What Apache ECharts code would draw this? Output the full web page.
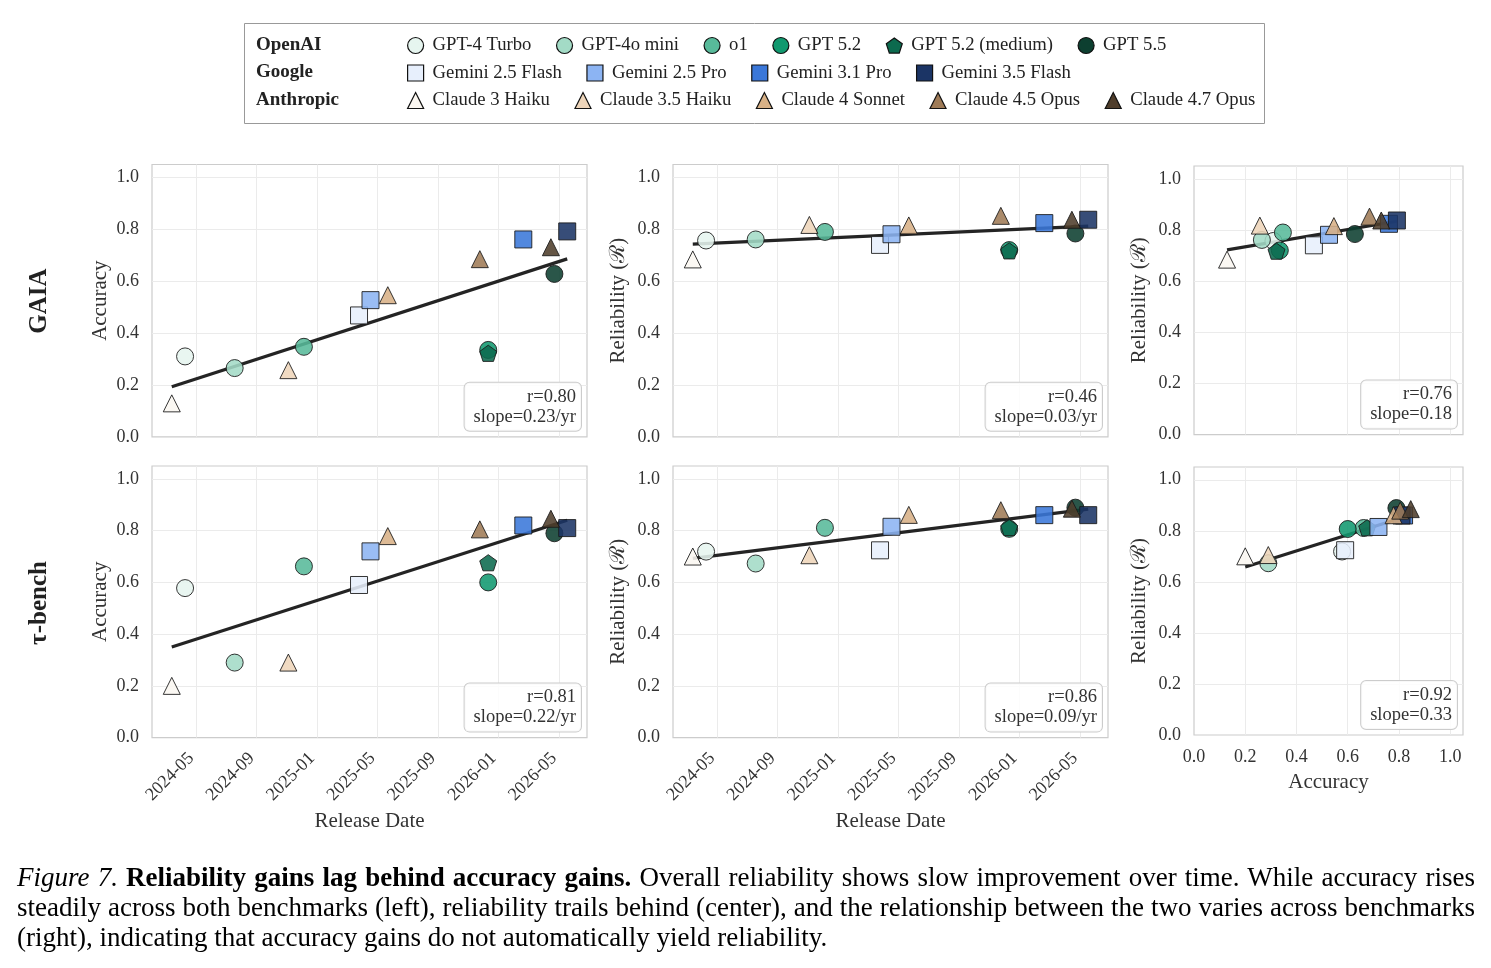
<!DOCTYPE html>
<html><head><meta charset="utf-8">
<script src="https://cdn.jsdelivr.net/npm/echarts@6/dist/echarts.min.js"></script>
<style>
html,body{margin:0;padding:0;background:#fff;}
#chart{position:absolute;left:0;top:0;width:1491px;height:968px;}
#caption{position:absolute;left:17px;top:862px;width:1458px;font-family:'Liberation Serif','Times New Roman',serif;font-size:27px;line-height:30px;color:#000;}
.jl{text-align:justify;text-align-last:justify;white-space:nowrap;}
</style></head><body>
<div id="chart"></div>
<div id="caption">
<div class="jl"><i>Figure 7.</i> <b>Reliability gains lag behind accuracy gains.</b> Overall reliability shows slow improvement over time. While accuracy rises</div>
<div class="jl">steadily across both benchmarks (left), reliability trails behind (center), and the relationship between the two varies across benchmarks</div>
<div>(right), indicating that accuracy gains do not automatically yield reliability.</div>
</div>
<script>
// ---------------- DATA ----------------
const models = ['GPT-4 Turbo','GPT-4o mini','o1','GPT 5.2','GPT 5.2 (medium)','GPT 5.5',
  'Gemini 2.5 Flash','Gemini 2.5 Pro','Gemini 3.1 Pro','Gemini 3.5 Flash',
  'Claude 3 Haiku','Claude 3.5 Haiku','Claude 4 Sonnet','Claude 4.5 Opus','Claude 4.7 Opus'];
const providers = ['OpenAI','Google','Anthropic'];
const providerOf = [0,0,0,0,0,0,1,1,1,1,2,2,2,2,2];
const releaseDates = ['2024-04-09','2024-07-18','2024-12-05','2025-12-11','2025-12-11','2026-04-22',
  '2025-03-25','2025-04-17','2026-02-19','2026-05-18',
  '2024-03-13','2024-11-04','2025-05-22','2025-11-24','2026-04-15'];
const gaiaAccuracy    = [0.310,0.265,0.347,0.335,0.322,0.628, 0.468,0.527,0.761,0.792, 0.129,0.257,0.546,0.685,0.731];
const gaiaReliability = [0.757,0.761,0.790,0.720,0.717,0.784, 0.740,0.781,0.824,0.837, 0.684,0.817,0.815,0.852,0.837];
const tauAccuracy     = [0.578,0.290,0.662,0.600,0.676,0.790, 0.590,0.720,0.820,0.810, 0.200,0.290,0.779,0.805,0.846];
const tauReliability  = [0.719,0.673,0.811,0.807,0.812,0.889, 0.724,0.815,0.860,0.860, 0.700,0.705,0.861,0.879,0.885];
// fitted trend lines (value at first / last point)
const trendGaiaAccDate = [0.193, 0.686];
const trendGaiaRelDate = [0.743, 0.812];
const trendGaiaRelAcc  = [0.722, 0.834];
const trendTauAccDate  = [0.350, 0.840];
const trendTauRelDate  = [0.693, 0.883];
const trendTauRelAcc   = [0.658, 0.862];
const statR     = ['0.80','0.46','0.76','0.81','0.86','0.92'];
const statSlope = ['0.23/yr','0.03/yr','0.18','0.22/yr','0.09/yr','0.33'];

// ---------------- STYLE ----------------
const colors = ['#e6f5ef','#a3dbc6','#58ba9a','#11996f','#0c6a4e','#0d3f30',
  '#e7effc','#8cb4f3','#3a77d9','#1b3465',
  '#fbf7f1','#eed5ba','#d8b186','#9f7b57','#4f3d2b'];
const PENT = 'path://M50,0 L97.55,34.55 L79.39,90.45 L20.61,90.45 L2.45,34.55 Z';
const symbols = ['circle','circle','circle','circle',PENT,'circle',
  'rect','rect','rect','rect','triangle','triangle','triangle','triangle','triangle'];
const FONT = "'Liberation Serif','Times New Roman',serif";
const TXT = '#333333';

function dateToX(s){
  const [y,m,d] = s.split('-').map(Number);
  const dim = new Date(y, m, 0).getDate();
  return ((y-2024)*12 + (m-1) + (d-1)/dim) / 4;   // unit = 4 months, 2024-05 -> 1
}
const dateX = releaseDates.map(dateToX);
const dxMin = Math.min(...dateX), dxMax = Math.max(...dateX);
const dPad = 0.05*(dxMax-dxMin);
function dateLabel(v){
  if (Math.abs(v-Math.round(v))>1e-6) return '';
  const m = Math.round(v)*4;
  const yr = 2024 + Math.floor(m/12), mo = (m%12)+1;
  return yr + '-' + (mo<10?'0':'') + mo;
}
function numLabel(v){
  return Math.abs(v*5-Math.round(v*5))<1e-6 ? v.toFixed(1) : '';
}

const panels = [
  {grid:{left:152,top:164.5,width:435,height:272.3}, xs:dateX, ys:gaiaAccuracy, kind:'date', yName:'Accuracy', trend:trendGaiaAccDate, bottom:false},
  {grid:{left:673,top:164.5,width:435,height:272.3}, xs:dateX, ys:gaiaReliability, kind:'date', yName:'Reliability (ℛ)', trend:trendGaiaRelDate, bottom:false},
  {grid:{left:1194,top:166,width:269,height:268.6}, xs:gaiaAccuracy, ys:gaiaReliability, kind:'acc', yName:'Reliability (ℛ)', trend:trendGaiaRelAcc, bottom:false},
  {grid:{left:152,top:466,width:435,height:271.6}, xs:dateX, ys:tauAccuracy, kind:'date', yName:'Accuracy', trend:trendTauAccDate, bottom:true},
  {grid:{left:673,top:466,width:435,height:271.6}, xs:dateX, ys:tauReliability, kind:'date', yName:'Reliability (ℛ)', trend:trendTauRelDate, bottom:true},
  {grid:{left:1194,top:467,width:269,height:268}, xs:tauAccuracy, ys:tauReliability, kind:'acc', yName:'Reliability (ℛ)', trend:trendTauRelAcc, bottom:true}
];

const grids=[], xAxes=[], yAxes=[], series=[], graphics=[];
panels.forEach((p,i)=>{
  grids.push(Object.assign({show:true, borderColor:'#cccccc', borderWidth:1.2, backgroundColor:'#ffffff', containLabel:false, outerBoundsMode:'none'}, p.grid));
  const splitLine = {show:true, showMinLine:false, showMaxLine:false, lineStyle:{color:'#ebebeb', width:1}};
  if (p.kind==='date'){
    xAxes.push({type:'value', gridIndex:i, min:dxMin-dPad, max:dxMax+dPad, minInterval:1, maxInterval:1, splitNumber:7,
      axisLine:{show:false}, axisTick:{show:false}, splitLine,
      axisLabel:{show:p.bottom, rotate:45, formatter:dateLabel, fontSize:18, color:TXT, fontFamily:FONT, margin:13, padding:[0,7,0,0], showMinLabel:true, showMaxLabel:true},
      name:p.bottom?'Release Date':'', nameLocation:'middle', nameGap:73, nameTextStyle:{fontSize:21, color:TXT, fontFamily:FONT}});
  } else {
    xAxes.push({type:'value', gridIndex:i, min:0, max:1.05, interval:0.2,
      axisLine:{show:false}, axisTick:{show:false}, splitLine,
      axisLabel:{show:p.bottom, formatter:numLabel, fontSize:18, color:TXT, fontFamily:FONT, margin:13},
      name:p.bottom?'Accuracy':'', nameLocation:'middle', nameGap:37, nameTextStyle:{fontSize:21, color:TXT, fontFamily:FONT}});
  }
  yAxes.push({type:'value', gridIndex:i, min:0, max:1.05, interval:0.2,
    axisLine:{show:false}, axisTick:{show:false}, splitLine,
    axisLabel:{formatter:numLabel, fontSize:18, color:TXT, fontFamily:FONT, margin:13, padding:[6,0,0,0]},
    name:p.yName, nameLocation:'middle', nameGap:(p.yName==='Accuracy'?41:44), nameTextStyle:{fontSize:21, color:TXT, fontFamily:FONT}});
  // trend line
  const tx0 = p.kind==='date' ? dxMin : Math.min(...p.xs);
  const tx1 = p.kind==='date' ? dxMax : Math.max(...p.xs);
  series.push({type:'line', name:'trend'+i, xAxisIndex:i, yAxisIndex:i, data:[[tx0,p.trend[0]],[tx1,p.trend[1]]],
    symbol:'none', silent:true, z:2, lineStyle:{color:'#242424', width:3.2}});
  // markers
  models.forEach((m,k)=>{
    series.push({type:'scatter', name:m, xAxisIndex:i, yAxisIndex:i, symbol:symbols[k],
      symbolSize:17, symbolKeepAspect:true, z:3,
      itemStyle:{color:colors[k], borderColor:'#1a1a1a', borderWidth:1, opacity:0.88},
      data:[[p.xs[k], p.ys[k]]]});
  });
  // stats box
  const g = p.grid;
  graphics.push({type:'text', z:50, x: g.left+g.width-6, y: g.top+g.height-6,
    style:{text:'r='+statR[i]+'\nslope='+statSlope[i], align:'right', verticalAlign:'bottom', font:'18.5px '+FONT, fill:TXT, lineHeight:20,
      backgroundColor:'rgba(255,255,255,0.85)', borderColor:'#cccccc', borderWidth:1, borderRadius:5, padding:[4,5,4,9]}});
});

// row labels
graphics.push({type:'text', x:40, y:301, rotation:Math.PI/2, z:50,
  style:{text:'GAIA', font:'bold 25px '+FONT, fill:'#222', align:'center', verticalAlign:'middle'}});
graphics.push({type:'text', x:40, y:603, rotation:Math.PI/2, z:50,
  style:{text:'τ-bench', font:'bold 25px '+FONT, fill:'#222', align:'center', verticalAlign:'middle'}});

// legend frame and provider labels
graphics.push({type:'rect', z:1, shape:{x:244.5,y:23.5,width:1020,height:100}, style:{fill:'#ffffff', stroke:'#999999', lineWidth:1}});
const rowY = [46, 73.5, 101];
providers.forEach((pv,r)=>{
  graphics.push({type:'text', z:50, x:256, y:rowY[r]-1, style:{text:pv, font:'bold 19px '+FONT, fill:'#222', verticalAlign:'middle'}});
});
const legends = providers.map((pv,r)=>({
  data: models.filter((m,k)=>providerOf[k]===r),
  left: 407, top: rowY[r]-10, orient:'horizontal', padding:0, itemGap:24.5,
  itemWidth:16, itemHeight:16, selectedMode:false, z:10,
  itemStyle:{opacity:1, borderColor:'#111', borderWidth:1.2},
  textStyle:{fontSize:18.7, color:'#222', fontFamily:FONT, padding:[0,0,0,4]}
}));

const chart = echarts.init(document.getElementById('chart'), null, {renderer:'canvas'});
chart.setOption({
  animation:false,
  backgroundColor:'#ffffff',
  textStyle:{fontFamily:FONT},
  grid:grids, xAxis:xAxes, yAxis:yAxes, series, legend:legends, graphic:graphics
});
</script>
</body></html>
